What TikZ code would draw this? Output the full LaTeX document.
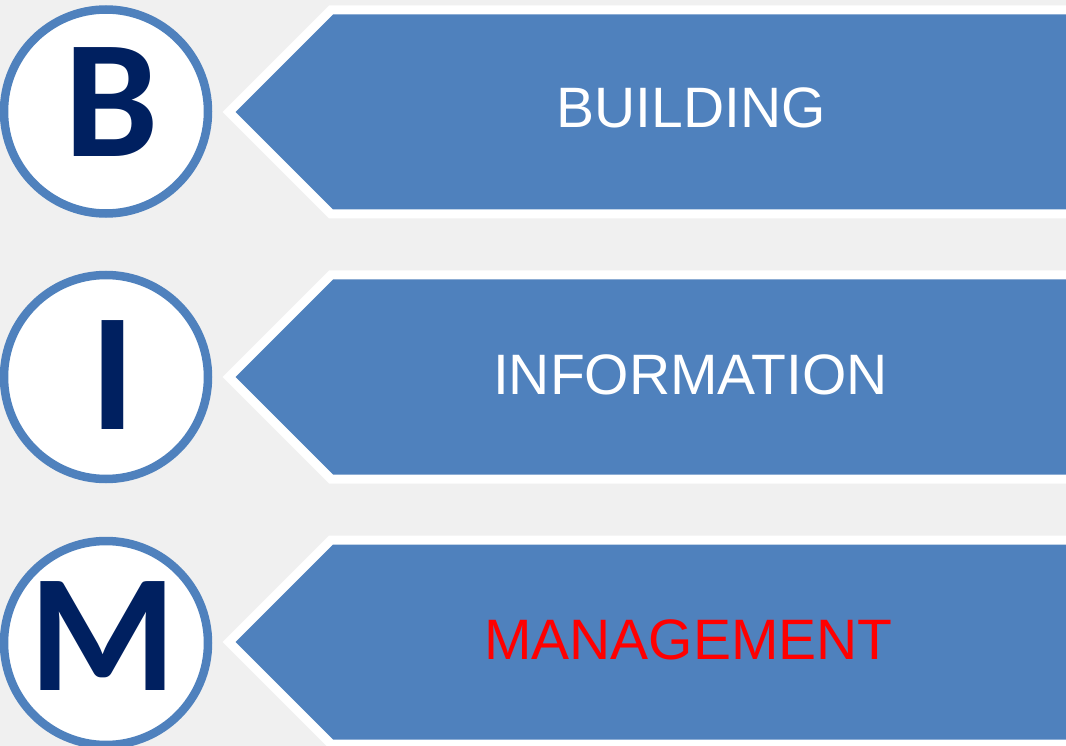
\documentclass[tikz,border=0pt]{standalone}
\usepackage{fontspec}
\setmainfont{Liberation Sans}
\newfontfamily\letterfont{Carlito}
\definecolor{bgc}{HTML}{F0F0F0}
\definecolor{bimblue}{HTML}{4F81BD}
\definecolor{navy}{HTML}{002060}
\definecolor{bimred}{HTML}{FF0000}
\tikzset{
  ring/.style={circle, draw=bimblue, fill=white, line width=8.5pt, minimum size=204pt, inner sep=0pt},
  letter/.style={anchor=base, text=navy, inner sep=0pt, font=\letterfont\bfseries\fontsize{168}{172}\selectfont},
  banner/.style={fill=bimblue, draw=white, line width=9pt, line join=miter},
  word/.style={anchor=base, inner sep=0pt, font=\fontsize{57}{60}\selectfont}
}
\begin{document}
\begin{tikzpicture}[x=1pt,y=-1pt]
\fill[bgc] (0,0) rectangle (1066,746);
\useasboundingbox (0,0) rectangle (1066,746);
% banners
\foreach \dy in {0,265,530}{
  \draw[banner] (229,112+\dy) -- (331,10+\dy) -- (1080,10+\dy) -- (1080,214+\dy) -- (331,214+\dy) -- cycle;
}
% circles
\node[ring] (c1) at (106,111.5) {};
\node[ring] (c2) at (106,377) {};
\node[ring] (c3) at (106,643) {};
% letters
\node[letter] (lb) at (112,157) {B};
\node[letter] (li) at (113,429) {I};
\node[letter] (lm) at (103,690) {M};
% words
\node[word, text=white] (w1) at (691,128) {BUILDING};
\node[word, text=white] (w2) at (690.5,394) {INFORMATION};
\node[word, text=bimred] (w3) at (688.5,659) {MANAGEMENT};
\end{tikzpicture}
\end{document}
